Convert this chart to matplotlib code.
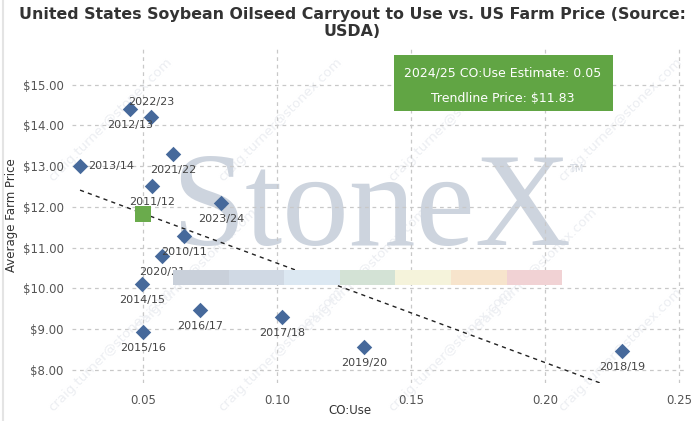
import numpy as np
import matplotlib.pyplot as plt
from matplotlib.patches import Rectangle
from matplotlib.lines import Line2D
from matplotlib.ticker import FuncFormatter

# marketing years, carryout to use ratio and average farm price
years = ['2010/11', '2011/12', '2012/13', '2013/14', '2014/15', '2015/16', '2016/17',
         '2017/18', '2018/19', '2019/20', '2020/21', '2021/22', '2022/23', '2023/24']
co_use = [0.0653, 0.0534, 0.0451, 0.0265, 0.0496, 0.0500, 0.0713,
          0.1019, 0.2287, 0.1325, 0.0571, 0.0612, 0.0530, 0.0791]
price = [11.28, 12.50, 14.40, 13.00, 10.10, 8.93, 9.47,
         9.30, 8.47, 8.56, 10.79, 13.30, 14.20, 12.09]

# trendline end points and 2024/25 estimate
trend_x = [0.0265, 0.2235]
trend_y = [12.41, 7.61]
est_x = 0.05
est_y = 11.83

xticks = [0.05, 0.10, 0.15, 0.20, 0.25]
yticks = [8, 9, 10, 11, 12, 13, 14, 15]

W, H = 700, 421
fig = plt.figure(figsize=(W / 100, H / 100), dpi=100)
ax = fig.add_axes([72 / W, 1 - 383 / H, (684 - 72) / W, (383 - 47) / H])
ax.patch.set_alpha(0)

# thin frame line at the left edge
fig.add_artist(Line2D([2.5 / W, 2.5 / W], [0, 1], transform=fig.transFigure,
                      color='#e4e4e4', lw=1.5, zorder=-2))

# faint e-mail watermark, kept inside the picture
for px, py in [(110, 120), (280, 120), (450, 120), (620, 120),
               (195, 270), (365, 270), (535, 270),
               (110, 350), (280, 350), (450, 350), (620, 350)]:
    fig.text(px / W, 1 - py / H, 'craig.turner@stonex.com', rotation=45, fontsize=9.5,
             color='#eceef2', ha='center', va='center', zorder=-1)

# StoneX logo watermark
ax.text(0.135, 11.06, 'StoneX', family='Liberation Serif', fontsize=96, color='#cdd4de',
        ha='center', va='baseline', zorder=0.1)
ax.text(0.2115, 12.93, 'TM', fontsize=7, color='#d5dae2', ha='center', va='center', zorder=0.1)
bar_colors = ['#c9d0da', '#d0d9e4', '#dce8f2', '#d3e2d5', '#f5f3db', '#f7e4cc', '#f1d2d4']
for i, c in enumerate(bar_colors):
    fig.add_artist(Rectangle(((173 + i * 55.6) / W, 1 - 285 / H), 55.6 / W, 15 / H,
                             transform=fig.transFigure, color=c, zorder=0.2, lw=0))

ax.grid(True, color='#c8c8c8', linestyle=(0, (3, 3)), linewidth=0.9)
ax.set_axisbelow(True)
for s in ax.spines.values():
    s.set_visible(False)

ax.plot(trend_x, trend_y, color='#222222', linestyle=(0, (3, 3)), linewidth=1, zorder=3)
ax.scatter(co_use, price, marker='D', s=62, color='#46699b', zorder=4, linewidths=0)
ax.scatter([est_x], [est_y], marker='s', s=135, color='#6aab4c', zorder=5, linewidths=0)

for yr, x, y in zip(years, co_use, price):
    if yr == '2013/14':
        ax.annotate(yr, (x, y), xytext=(6, 0), textcoords='offset points',
                    ha='left', va='center', fontsize=8, color='#444444', zorder=6)
    elif yr == '2022/23':
        ax.annotate(yr, (x, y), xytext=(0, 11), textcoords='offset points',
                    ha='center', va='center', fontsize=8, color='#444444', zorder=6)
    else:
        ax.annotate(yr, (x, y), xytext=(0, -11.5), textcoords='offset points',
                    ha='center', va='center', fontsize=8, color='#444444', zorder=6)

ax.set_xlim(0.0235, 0.2519)
ax.set_ylim(7.68, 15.92)
ax.set_xticks(xticks)
ax.set_yticks(yticks)
ax.xaxis.set_major_formatter(FuncFormatter(lambda v, p: '%.2f' % v))
ax.yaxis.set_major_formatter(FuncFormatter(lambda v, p: '$%.2f' % v))
ax.tick_params(length=0, labelsize=8.5, labelcolor='#555555', pad=6)
ax.tick_params(axis='x', pad=8)

fig.text(350 / W, 1 - 410 / H, 'CO:Use', fontsize=8.5, color='#333333', ha='center', va='center')
fig.text(12 / W, 1 - 215 / H, 'Average Farm Price', fontsize=8.5, color='#333333',
         rotation=90, ha='center', va='center')

fig.text(352 / W, 1 - 23 / H, 'United States Soybean Oilseed Carryout to Use vs. US Farm Price (Source:\nUSDA)',
         fontweight='bold', fontsize=11.4, color='#333333',
         ha='center', va='center', linespacing=1.2)

# estimate box
fig.add_artist(Rectangle((394 / W, 1 - 111 / H), (613 - 394) / W, (111 - 55) / H,
                         transform=fig.transFigure, color='#61a544', zorder=7, lw=0))
fig.text(503 / W, 1 - 73 / H, '2024/25 CO:Use Estimate: %.2f' % est_x, fontsize=9,
         color='white', ha='center', va='center', zorder=8)
fig.text(503 / W, 1 - 99 / H, 'Trendline Price: $%.2f' % est_y, fontsize=9,
         color='white', ha='center', va='center', zorder=8)

fig.savefig('out.png', dpi=100)
